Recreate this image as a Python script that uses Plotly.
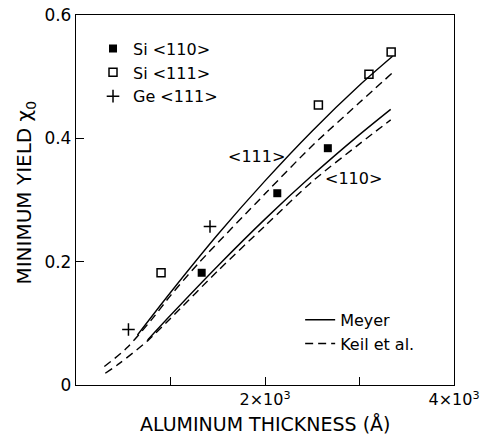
import plotly.graph_objects as go

# Data points
si110_x = [1330, 2130, 2665]
si110_y = [0.182, 0.311, 0.384]
si111_x = [900, 2565, 3100, 3335]
si111_y = [0.182, 0.454, 0.504, 0.540]
ge111_x = [555, 1418]
ge111_y = [0.090, 0.257]

# Theory curves
meyer111_x = [650, 1000, 1500, 2000, 2500, 3000, 3350]
meyer111_y = [0.081, 0.150, 0.244, 0.331, 0.412, 0.486, 0.533]
keil111_x = [300, 530, 800, 1000, 1300, 2000, 2500, 3000, 3340]
keil111_y = [0.030, 0.059, 0.106, 0.145, 0.198, 0.310, 0.388, 0.458, 0.505]
meyer110_x = [758, 1000, 1500, 2000, 2500, 3000, 3330]
meyer110_y = [0.073, 0.113, 0.193, 0.269, 0.340, 0.406, 0.447]
keil110_x = [310, 460, 760, 1000, 1500, 2000, 2500, 3000, 3330]
keil110_y = [0.019, 0.035, 0.072, 0.108, 0.185, 0.258, 0.330, 0.391, 0.430]

x_tickvals = [1000, 2000, 3000, 4000]
x_ticktext = ["", "2×10<sup>3</sup>", "", "4×10<sup>3</sup>"]
y_tickvals = [0, 0.2, 0.4, 0.6]
y_ticktext = ["0", "0.2", "0.4", "0.6"]

FONT = "DejaVu Sans"
LW = 1.4
DASH = "8px,5px"

fig = go.Figure()

curve_line = dict(color="black", width=LW, shape="spline", smoothing=0.8)
dash_line = dict(color="black", width=LW, dash=DASH, shape="spline", smoothing=0.8)

fig.add_trace(go.Scatter(x=meyer111_x, y=meyer111_y, mode="lines", line=curve_line,
                         name="Meyer", legend="legend2", legendgroup="m", showlegend=True))
fig.add_trace(go.Scatter(x=meyer110_x, y=meyer110_y, mode="lines", line=curve_line,
                         name="Meyer", legend="legend2", legendgroup="m", showlegend=False))
fig.add_trace(go.Scatter(x=keil111_x, y=keil111_y, mode="lines", line=dash_line,
                         name="Keil et al.", legend="legend2", legendgroup="k", showlegend=True))
fig.add_trace(go.Scatter(x=keil110_x, y=keil110_y, mode="lines", line=dash_line,
                         name="Keil et al.", legend="legend2", legendgroup="k", showlegend=False))

fig.add_trace(go.Scatter(x=si110_x, y=si110_y, mode="markers", name="Si <110>", legend="legend",
                         marker=dict(symbol="square", size=8, color="black")))
fig.add_trace(go.Scatter(x=si111_x, y=si111_y, mode="markers", name="Si <111>", legend="legend",
                         marker=dict(symbol="square-open", size=8, color="black", line=dict(width=1.5))))
fig.add_trace(go.Scatter(x=ge111_x, y=ge111_y, mode="markers", name="Ge <111>", legend="legend",
                         marker=dict(symbol="cross-thin-open", size=9, color="black", line=dict(width=1.5, color="black"))))

fig.add_annotation(x=1912, y=0.370, text="<111>", showarrow=False, font=dict(family=FONT, size=16, color="black"))
fig.add_annotation(x=2935, y=0.335, text="<110>", showarrow=False, font=dict(family=FONT, size=16, color="black"))

fig.add_annotation(xref="paper", yref="paper", x=-0.135, y=0.52, text="MINIMUM YIELD χ<sub>0</sub>",
                   textangle=-90, showarrow=False, xanchor="center", yanchor="middle",
                   font=dict(family=FONT, size=20, color="black"))
fig.add_annotation(xref="paper", yref="paper", x=0.5, y=-0.106, text="ALUMINUM THICKNESS (Å)",
                   showarrow=False, xanchor="center", yanchor="middle",
                   font=dict(family=FONT, size=19, color="black"))

fig.update_layout(
    width=484, height=438,
    margin=dict(l=76, r=30, t=15, b=53, autoexpand=False),
    paper_bgcolor="white", plot_bgcolor="white",
    font=dict(family=FONT, size=16, color="black"),
    legend=dict(x=0.045, y=0.955, xanchor="left", yanchor="top", bgcolor="rgba(0,0,0,0)",
                font=dict(family=FONT, size=16, color="black"), itemwidth=30, tracegroupgap=0),
    legend2=dict(x=0.593, y=0.222, xanchor="left", yanchor="top", bgcolor="rgba(0,0,0,0)",
                 font=dict(family=FONT, size=16, color="black"), itemwidth=30, tracegroupgap=0),
)
fig.update_xaxes(range=[0, 4000], tickvals=x_tickvals, ticktext=x_ticktext, ticks="inside", ticklen=8,
                 tickwidth=1.3, tickcolor="black", showline=True, linecolor="black", linewidth=1.3, mirror=True,
                 showgrid=False, zeroline=False, tickfont=dict(size=16), automargin=False)
fig.update_yaxes(range=[0, 0.6], tickvals=y_tickvals, ticktext=y_ticktext, ticks="inside", ticklen=8,
                 tickwidth=1.3, tickcolor="black", showline=True, linecolor="black", linewidth=1.3, mirror=True,
                 showgrid=False, zeroline=False, tickfont=dict(size=17), automargin=False)

fig.write_html("out.html")
